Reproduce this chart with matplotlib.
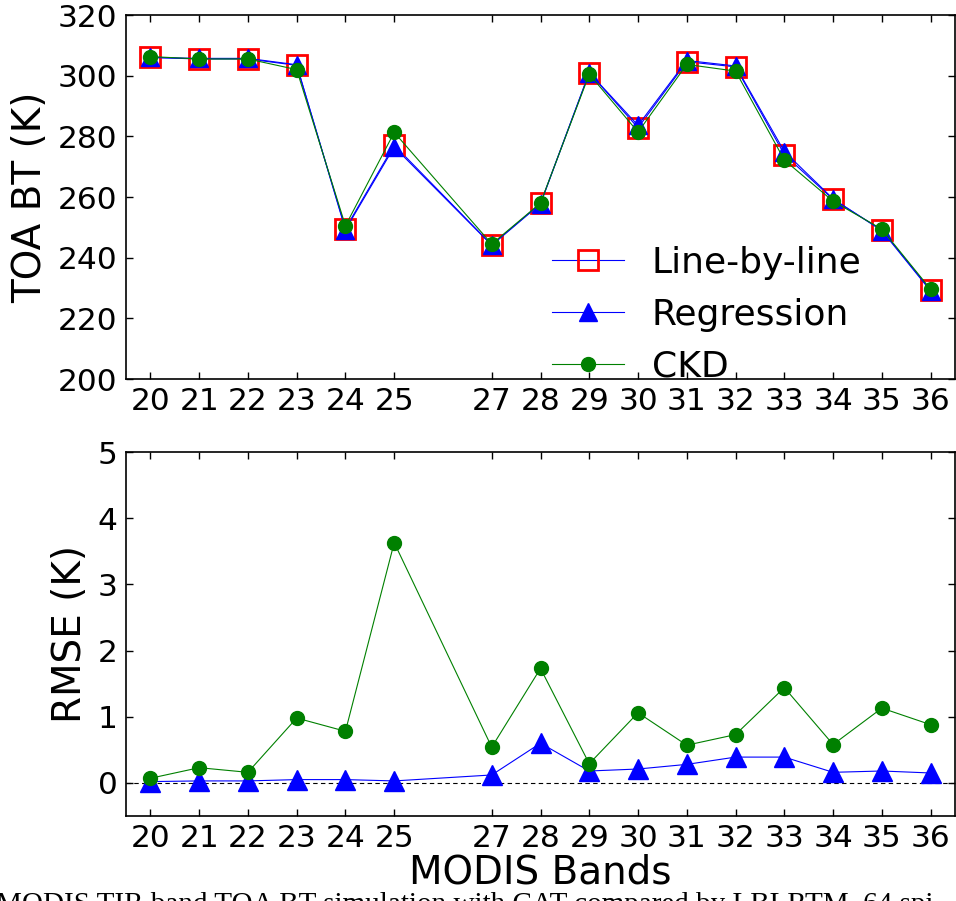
import numpy as np
from matplotlib import pyplot as plt

plt.rcParams['font.family'] = ['DejaVu Sans']
plt.rcParams['xtick.direction'] = 'in'
plt.rcParams['ytick.direction'] = 'in'

# MODIS TIR bands (band 26 not simulated)
bands = [20, 21, 22, 23, 24, 25, 27, 28, 29, 30, 31, 32, 33, 34, 35, 36]

# TOA brightness temperature (K)
bt_lbl = [306.0, 305.5, 305.5, 303.4, 249.6, 277.1, 244.2, 257.9,
          301.0, 282.8, 304.6, 302.9, 274.0, 259.2, 249.1, 229.3]
bt_reg = [306.0, 305.7, 305.7, 303.6, 249.2, 276.5, 244.1, 257.7,
          301.0, 283.6, 305.0, 303.2, 275.0, 259.4, 248.9, 229.0]
bt_ckd = [306.3, 305.5, 305.5, 302.0, 250.5, 281.3, 244.5, 258.0,
          300.5, 281.4, 303.7, 301.5, 272.2, 258.6, 249.4, 229.6]

# RMSE against line-by-line (K)
rmse_reg = [0.02, 0.03, 0.03, 0.05, 0.05, 0.03, 0.12, 0.60,
            0.18, 0.21, 0.28, 0.39, 0.39, 0.16, 0.18, 0.15]
rmse_ckd = [0.07, 0.23, 0.16, 0.98, 0.78, 3.63, 0.54, 1.73,
            0.29, 1.06, 0.57, 0.73, 1.44, 0.58, 1.13, 0.88]

fig = plt.figure(figsize=(9.56, 9.01), dpi=100)
ax1 = fig.add_axes([126 / 956, 1 - 379 / 901, 829 / 956, 364 / 901])
ax2 = fig.add_axes([126 / 956, 1 - 816 / 901, 829 / 956, 364 / 901])

ax1.plot(bands, bt_lbl, color='b', lw=0.8, marker='s', ms=15, mfc='none',
         mec='r', mew=2, label='Line-by-line')
ax1.plot(bands, bt_reg, color='b', lw=0.8, marker='^', ms=13, mfc='b',
         mec='b', label='Regression')
ax1.plot(bands, bt_ckd, color='g', lw=0.8, marker='o', ms=10, mfc='g',
         mec='g', label='CKD')
ax1.set_ylim(200, 320)
ax1.set_yticks(np.arange(200, 321, 20))
ax1.set_ylabel('TOA BT (K)', fontsize=28, labelpad=6)
ax1.legend(loc='upper left', bbox_to_anchor=(0.475, 0.455), frameon=False,
           fontsize=26, numpoints=1, handlelength=2.0, handletextpad=0.75,
           labelspacing=0.5)

ax2.axhline(0, color='k', lw=0.8, ls='--', dashes=(4, 3))
ax2.plot(bands, rmse_reg, color='b', lw=0.8, marker='^', ms=14, mfc='b', mec='b')
ax2.plot(bands, rmse_ckd, color='g', lw=0.8, marker='o', ms=10, mfc='g', mec='g')
ax2.set_ylim(-0.5, 5)
ax2.set_yticks(range(0, 6))
ax2.set_ylabel('RMSE (K)', fontsize=28, labelpad=6)
ax2.set_xlabel('MODIS Bands', fontsize=28, labelpad=0)

for ax in (ax1, ax2):
    ax.set_xlim(19.5, 36.5)
    ax.set_xticks(bands)
    ax.tick_params(labelsize=22.5, top=True, right=True, length=5, width=1, pad=6)
    for s in ax.spines.values():
        s.set_linewidth(1.2)

fig.text(-0.004, 1 - 892 / 901, 'MODIS TIR band TOA BT simulation with CAT compared by LBLRTM, 64 spi',
         fontsize=21, family='Liberation Serif', va='top', ha='left')

fig.savefig('out.png', dpi=100)
